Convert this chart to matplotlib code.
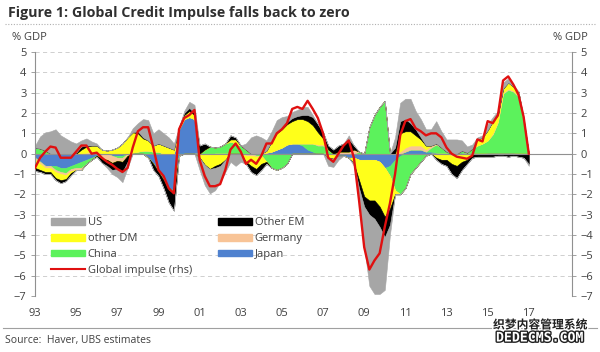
import numpy as np
import matplotlib.pyplot as plt
from matplotlib.patches import Patch
from matplotlib.lines import Line2D
import matplotlib.patheffects as pe

plt.rcParams['font.family'] = ['Open Sans', 'DejaVu Sans']

# quarterly, 1993Q1 .. 2017Q1 (% GDP)
dates = np.arange(1993, 2017.01, 0.25)

japan = [-0.2, -0.4, -0.6, -0.6, -0.6, -0.7, -0.7, -0.6, -0.5, -0.4, -0.3, -0.2,
         -0.1, -0.05, 0.0, -0.1, -0.1, -0.1, 0.0, 0.0, 0.0, 0.0, -0.2, -0.5,
         -0.9, -1.3, -1.7, -1.8, 1.2, 1.7, 1.8, 1.7, 0.0, 0.0, 0.0, 0.0,
         0.0, 0.0, 0.0, 0.0, 0.0, 0.0, 0.0, 0.0, 0.0, 0.05, 0.1, 0.2,
         0.3, 0.45, 0.5, 0.5, 0.4, 0.2, 0.1, 0.0, 0.0, 0.0, -0.05, -0.1,
         -0.1, -0.2, -0.2, -0.3, -0.3, -0.3, -0.3, -0.4, -0.7, -0.6, -0.3, -0.1,
         0.1, 0.2, 0.2, 0.2, 0.1, 0.1, 0.05, 0.0, 0.0, -0.05, -0.05, 0.05,
         0.05, 0.05, 0.0, 0.0, 0.05, 0.05, 0.05, 0.05, 0.05, 0.05, 0.0, 0.0,
         0.0]
china = [0.3, 0.25, 0.15, 0.0, -0.2, -0.2, -0.25, -0.15, -0.2, -0.3, -0.2, -0.1,
         0.0, 0.0, 0.0, 0.0, -0.1, -0.1, 0.0, 0.05, 0.1, 0.15, 0.15, 0.1,
         0.1, 0.0, -0.1, -0.1, -0.1, 0.0, 0.0, 0.0, 0.0, 0.2, 0.35, 0.3,
         0.35, 0.5, 0.6, 0.5, 0.4, 0.2, 0.0, -0.1, -0.1, -0.4, -0.7, -0.8,
         -0.7, -0.5, 0.0, 0.0, 0.1, 0.3, 0.4, 0.4, 0.4, 0.2, 0.0, 0.0,
         0.0, 0.0, 0.0, 0.1, 0.0, 1.3, 1.9, 2.3, 2.6, -0.5, -1.5, -1.9,
         -1.7, -1.0, -0.7, -0.4, -0.1, 0.2, 0.4, 0.3, 0.1, 0.0, 0.0, 0.1,
         0.0, 0.2, 0.4, 0.5, 0.6, 0.9, 1.5, 2.9, 3.1, 3.0, 2.8, 1.6,
         0.0]
germany = [-0.1, -0.1, -0.1, -0.1, -0.1, -0.1, -0.1, -0.1, -0.1, -0.1, 0.05, 0.1,
           0.1, -0.2, -0.3, -0.35, -0.15, -0.2, -0.1, 0.0, 0.0, 0.0, 0.0, 0.0,
           0.0, 0.0, 0.0, 0.0, 0.0, 0.0, 0.0, 0.0, 0.0, -0.05, -0.05, 0.0,
           0.0, 0.0, 0.0, 0.0, 0.0, -0.1, -0.1, -0.05, 0.0, 0.0, 0.0, 0.0,
           0.0, 0.0, 0.0, 0.0, 0.0, 0.0, 0.0, 0.05, 0.05, 0.0, 0.0, 0.1,
           0.1, 0.1, 0.2, 0.0, 0.0, 0.0, 0.0, 0.0, 0.0, 0.0, 0.0, 0.1,
           0.2, 0.2, 0.2, 0.2, 0.1, 0.1, 0.05, 0.0, 0.0, -0.05, -0.05, 0.0,
           0.0, 0.0, 0.0, 0.0, 0.0, 0.05, 0.05, 0.05, 0.05, 0.05, 0.05, 0.0,
           0.0]
other_dm = [-0.4, -0.3, -0.2, -0.2, -0.3, -0.3, -0.2, -0.1, 0.0, 0.2, 0.3, 0.3,
            0.3, 0.2, 0.15, 0.2, 0.3, 0.5, 0.8, 1.0, 0.9, 0.6, 0.5, 0.3,
            0.4, 0.4, 0.3, 0.2, 0.1, 0.2, 0.3, 0.2, -0.2, -0.5, -0.7, -0.6,
            -0.5, -0.3, 0.1, 0.2, 0.0, -0.3, -0.5, -0.6, -0.4, 0.1, 0.5, 0.8,
            0.9, 1.0, 1.1, 1.2, 1.2, 1.1, 0.9, 0.6, 0.3, -0.2, -0.2, 0.0,
            0.0, 0.0, -0.3, -1.0, -1.8, -2.0, -2.0, -2.2, -2.4, -1.6, -0.2, 0.9,
            0.8, 0.7, 0.5, 0.3, 0.2, 0.0, -0.2, -0.3, -0.3, -0.4, -0.5, -0.4,
            -0.3, 0.0, 0.3, 0.3, 0.5, 0.6, 0.3, 0.2, 0.3, 0.2, 0.2, 0.1,
            0.0]
other_em = [-0.15, -0.1, -0.1, -0.1, -0.1, -0.15, -0.1, -0.1, 0.05, 0.15, 0.05, 0.0,
            -0.05, -0.2, -0.3, -0.35, -0.4, -0.5, -0.3, 0.0, 0.1, 0.05, 0.0, -0.3,
            -0.2, -0.4, -0.6, -0.9, 0.0, 0.1, 0.15, 0.1, 0.4, 0.3, 0.0, -0.1,
            -0.1, 0.0, 0.2, 0.1, 0.0, -0.1, -0.3, -0.3, -0.3, -0.1, 0.0, 0.05,
            0.1, 0.1, 0.15, 0.15, 0.2, 0.3, 0.4, 0.4, 0.3, 0.2, 0.2, 0.3,
            0.4, 0.6, 0.2, -0.4, -0.5, -0.7, -0.9, -1.0, -1.0, -0.8, 0.3, 0.6,
            0.6, 0.4, 0.3, 0.1, 0.0, 0.0, -0.1, -0.2, -0.3, -0.5, -0.6, -0.4,
            -0.2, -0.2, -0.15, -0.15, -0.15, -0.15, -0.1, -0.1, -0.15, -0.1, -0.15, -0.2,
            -0.5]
us = [0.1, 0.6, 0.9, 1.1, 1.2, 0.9, 0.75, 0.6, 0.45, 0.3, 0.35, 0.2,
      0.1, 0.0, -0.1, -0.2, -0.4, -0.5, -0.3, 0.2, 0.4, 0.9, 1.0, 0.6,
      0.7, 0.6, 0.5, 0.3, 0.0, 0.1, 0.3, 0.4, -0.6, -1.0, -1.2, -1.1,
      -0.8, -0.6, -0.4, -0.6, -0.4, 0.3, 0.8, 0.9, 0.8, 0.5, 0.5, 0.6,
      0.5, 0.3, 0.3, 0.3, 0.4, 0.4, 0.1, 0.0, 0.0, -0.4, -0.4, -0.2,
      0.0, 0.2, -0.1, -0.5, -2.0, -3.5, -3.7, -3.3, -2.6, -0.5, 0.5, 0.9,
      1.0, 1.2, 0.9, 0.9, 0.8, 0.8, 1.1, 0.8, 0.6, 0.7, 0.7, 0.5,
      0.3, 0.2, 0.1, 0.1, 0.3, 0.2, 0.2, 0.3, 0.2, 0.1, 0.0, 0.1,
      -0.1]
global_impulse = [-0.7, -0.2, 0.1, 0.35, 0.3, -0.2, -0.2, -0.2, 0.1, 0.4, 0.4, 0.0,
                  0.05, -0.2, -0.4, -0.55, -0.75, -0.9, -0.7, 0.3, 1.1, 1.3, 1.3, 0.3,
                  -0.8, -1.1, -1.7, -1.95, 1.2, 1.75, 1.9, 2.15, -0.3, -1.1, -1.6, -1.6,
                  -1.5, -0.8, 0.2, 0.5, 0.1, -0.5, -0.3, -0.5, -0.1, 0.5, 0.5, 1.0,
                  1.2, 1.5, 2.2, 2.3, 2.2, 2.6, 2.2, 1.75, 1.0, -0.2, -0.4, 0.0,
                  0.4, 0.65, -0.2, -2.3, -4.6, -5.7, -5.25, -4.9, -3.6, -2.45, -1.0, 0.9,
                  1.6, 1.7, 1.25, 1.1, 0.9, 1.0, 1.0, 0.8, 0.3, 0.0, -0.15, -0.2,
                  -0.25, -0.1, 0.7, 0.6, 1.6, 1.5, 1.9, 3.6, 3.8, 3.4, 2.9, 1.8,
                  0.0]

year_ticks = np.arange(1993, 2018, 2)
year_labels = ['93', '95', '97', '99', '01', '03', '05', '07', '09', '11', '13', '15', '17']

fig = plt.figure(figsize=(6, 3.52), dpi=100)
ax = fig.add_axes([35 / 600, 1 - 296 / 352, (572 - 35) / 600, 244 / 352])

gray_txt = '#404040'
# stacked from zero outwards, positives and negatives stacked separately
stack = [(japan, '#4f81cf', 'Japan'), (china, '#5cf25c', 'China'),
         (germany, '#f8c497', 'Germany'), (other_dm, '#ffff1a', 'other DM'),
         (other_em, '#000000', 'Other EM'), (us, '#a6a6a6', 'US')]
pos = np.zeros(len(dates))
neg = np.zeros(len(dates))
for vals, col, name in stack:
    v = np.array(vals)
    p = np.clip(v, 0, None)
    q = np.clip(v, None, 0)
    ax.fill_between(dates, pos, pos + p, color=col, lw=0.4, zorder=2)
    ax.fill_between(dates, neg, neg + q, color=col, lw=0.4, zorder=2)
    pos += p
    neg += q

ax.plot(dates, global_impulse, color='#e01010', lw=1.7, zorder=4)

for yv in range(-7, 6):
    if yv != 0:
        ax.axhline(yv, color='#c8c8c8', lw=0.6, ls=(0, (5, 4)), zorder=1)
ax.axhline(0, color='#909090', lw=0.8, zorder=3)

ax.set_xlim(1993, 2019.1)
ax.set_ylim(-7, 5)
ax.set_yticks(range(-7, 6))
ax.set_xticks(year_ticks)
ax.set_xticklabels(year_labels)
ax.tick_params(axis='x', length=0, pad=9, labelsize=8, labelcolor=gray_txt)
ax.tick_params(axis='y', length=3, width=0.6, color='#909090', labelsize=8,
               labelcolor=gray_txt, pad=3, left=True, right=True,
               labelleft=True, labelright=True)
for s in ['top', 'bottom']:
    ax.spines[s].set_visible(False)
for s in ['left', 'right']:
    ax.spines[s].set_color('#909090')
    ax.spines[s].set_linewidth(0.8)

handles = [Patch(color='#a6a6a6'), Patch(color='#ffff1a'), Patch(color='#5cf25c'),
           Line2D([], [], color='#e01010', lw=1.5),
           Patch(color='#000000'), Patch(color='#f8c497'), Patch(color='#4f81cf')]
labels = ['US', 'other DM', 'China', 'Global impulse (rhs)', 'Other EM', 'Germany', 'Japan']
leg = ax.legend(handles, labels, ncol=2, loc='upper left',
                bbox_to_anchor=(12 / 537, 1 - 161 / 244), frameon=False,
                fontsize=8, handlelength=3.0, handleheight=0.55,
                handletextpad=0.25, labelspacing=0.43, columnspacing=2.4,
                borderaxespad=0)
for t in leg.get_texts():
    t.set_color(gray_txt)

fig.text(8 / 600, 1 - 13 / 352, 'Figure 1: Global Credit Impulse falls back to zero',
         fontsize=10.3, fontweight='bold', color='#303030', va='center', ha='left')
fig.add_artist(Line2D([5 / 600, 595 / 600], [1 - 24 / 352] * 2, color='#b0b0b0',
                      lw=0.8, ls=(0, (1, 1.5))))
fig.text(12 / 600, 1 - 37 / 352, '% GDP', fontsize=8, color=gray_txt, va='center')
fig.text(588 / 600, 1 - 37 / 352, '% GDP', fontsize=8, color=gray_txt, va='center',
         ha='right')
fig.add_artist(Line2D([3 / 600, 597 / 600], [1 - 328 / 352] * 2, color='#a0a0a0',
                      lw=0.8))
fig.text(5 / 600, 1 - 341 / 352, 'Source:  Haver, UBS estimates', fontsize=7.5,
         color=gray_txt, va='center')

# watermark in the corner of the original
fig.text(540 / 600, 1 - 325 / 352, '织梦内容管理系统', fontsize=8.5, fontweight='bold',
         family=['Noto Sans CJK SC', 'DejaVu Sans'], color='#202020', ha='center',
         va='center', path_effects=[pe.withStroke(linewidth=2, foreground='white')])
fig.text(540 / 600, 1 - 338 / 352, 'DEDECMS.COM', fontsize=9.5, fontweight='bold',
         family=['DejaVu Sans Mono'], color='white', ha='center', va='center',
         path_effects=[pe.withStroke(linewidth=2, foreground='#202020')])

fig.savefig('out.png', dpi=100)
